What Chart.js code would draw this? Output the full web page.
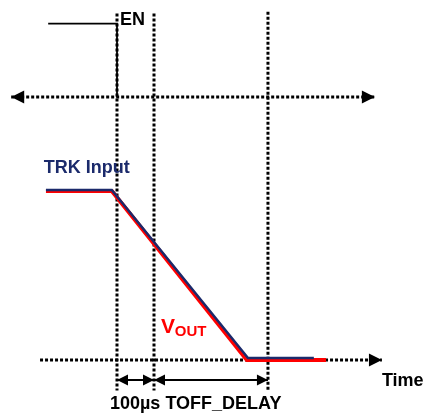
<!DOCTYPE html>
<html>
<head>
<meta charset="utf-8">
<script src="https://cdn.jsdelivr.net/npm/chart.js@4"></script>
<style>
body{margin:0;background:#fff}
#wrap{width:424px;height:415px}
</style>
</head>
<body>
<div id="wrap"><canvas id="diag" width="424" height="415"></canvas></div>
<script>
// time in us (0 = EN falls), level normalised (0 = ground, 1 = TRK high)
const enT=[-186,0,0]
const enLevel=[1.99,1.99,1.556]

const markerT=[0,100,408]
const markerTop=[2.05,2.05,2.06]
const markerBottom=-0.18

const trkT=[-192,-14,354,532]
const trkLevel=[1.006,1.006,0.012,0.012]

const voutT=[-192,-14,351,565]
const voutLevel=[1.0,1.0,0,0]

const enArrowT=[-286,697]
const enArrowLevel=1.556
const timeAxisT=[-208,716]
const spanLevel=-0.118
const spanT=[0,100,408]

const labelText=["EN","TRK Input","V","OUT","Time","100µs TOFF_DELAY"]
const labelT=[8,-198,119,156,716,-19]
const labelLevel=[1.982,1.107,0.16,0.14,-0.154,-0.29]

const navy="#1b2a6b"
const red="#ff0000"

function line(xs,ys,opts){
return Object.assign({
data:xs.map((x,i)=>({x:x,y:ys[i]})),
showLine:true,pointRadius:0,borderColor:"#000",borderWidth:2,fill:false,tension:0
},opts)
}

const dotted={borderDash:[3,2],borderWidth:3,borderCapStyle:"butt",order:5}

const datasets=[
line(trkT,trkLevel,{borderColor:navy,borderWidth:2.5,order:0}),
line(voutT,voutLevel,{borderColor:red,borderWidth:4,order:1}),
line(enT,enLevel,{borderWidth:1.8,order:2}),
line(enArrowT,[enArrowLevel,enArrowLevel],dotted),
line(timeAxisT,[0,0],dotted),
line([spanT[0],spanT[1]],[spanLevel,spanLevel],{borderWidth:2,order:3}),
line([spanT[1],spanT[2]],[spanLevel,spanLevel],{borderWidth:2,order:3})
]
markerT.forEach((t,i)=>{
datasets.push(line([t,t],[markerTop[i],markerBottom],dotted))
})

// arrow tips: [t, level, direction, size]
const arrows=[
[enArrowT[0],enArrowLevel,-1,13],
[enArrowT[1],enArrowLevel,1,13],
[timeAxisT[1],0,1,13],
[spanT[0],spanLevel,-1,11],
[spanT[1],spanLevel,1,11],
[spanT[1],spanLevel,-1,11],
[spanT[2],spanLevel,1,11]
]

const decor={
id:"decor",
afterDatasetsDraw(c){
const ctx=c.ctx,x=c.scales.x,y=c.scales.y
ctx.save()
ctx.fillStyle="#000"
arrows.forEach(a=>{
const px=x.getPixelForValue(a[0]),py=y.getPixelForValue(a[1]),s=a[3],d=a[2]
ctx.beginPath()
ctx.moveTo(px,py)
ctx.lineTo(px-d*s,py-s/2)
ctx.lineTo(px-d*s,py+s/2)
ctx.closePath()
ctx.fill()
})
const fonts=["bold 18px 'Liberation Sans'","bold 18px 'Liberation Sans'","bold 21px 'Liberation Sans'","bold 15px 'Liberation Sans'","bold 18px 'Liberation Sans'","bold 18px 'Liberation Sans'"]
const colors=["#000",navy,red,red,"#000","#000"]
ctx.textBaseline="alphabetic"
labelText.forEach((s,i)=>{
ctx.font=fonts[i]
ctx.fillStyle=colors[i]
ctx.fillText(s,x.getPixelForValue(labelT[i]),y.getPixelForValue(labelLevel[i]))
})
ctx.restore()
}
}

new Chart(document.getElementById("diag"),{
type:"scatter",
data:{datasets:datasets},
options:{
responsive:false,
animation:false,
layout:{padding:0},
plugins:{legend:{display:false},tooltip:{enabled:false}},
scales:{
x:{type:"linear",min:-316.2,max:829.7,display:false},
y:{type:"linear",min:-0.3254,max:2.1302,display:false}
}
},
plugins:[decor]
})
</script>
</body>
</html>
